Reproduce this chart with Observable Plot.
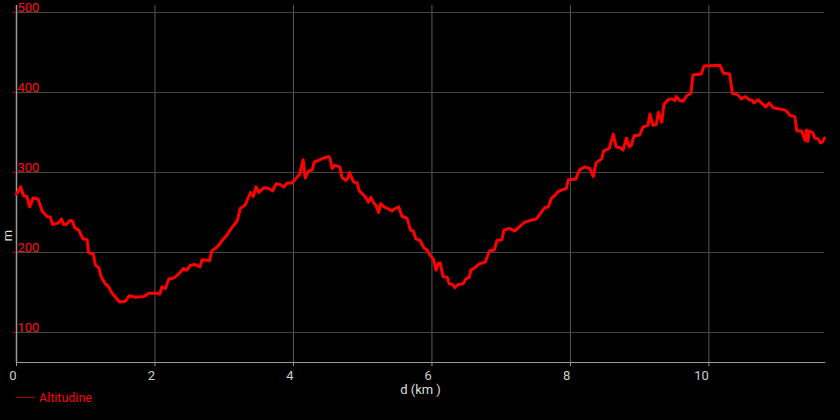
<!DOCTYPE html>
<html>
<head>
<meta charset="utf-8">
<script src="https://cdn.jsdelivr.net/npm/d3@7"></script>
<script src="https://cdn.jsdelivr.net/npm/@observablehq/plot@0.6"></script>
<style>
  html, body { margin: 0; padding: 0; background: #000; }
  body { width: 840px; height: 420px; position: relative; overflow: hidden; font-family: Roboto, "Noto Sans", sans-serif; }
  #chart svg { display: block; }
  #ylabel { position: absolute; left: 2px; top: 228px; color: #ddd; font-size: 13px; transform: rotate(-90deg); transform-origin: center; }
  #legend { position: absolute; left: 16px; top: 388px; height: 18px; display: flex; align-items: center; font-size: 12.5px; color: #f00; }
  #legend .sw { display: inline-block; width: 19px; height: 0; border-top: 1px solid #a00; margin-right: 4px; }
</style>
</head>
<body>
<div id="chart"></div>
<div id="ylabel">m</div>
<div id="legend"><span class="sw"></span><span>Altitudine</span></div>
<script>
// distance (km)
const distance = [
  0.00,0.06,0.10,0.15,0.19,0.24,0.31,0.37,0.44,0.49,0.52,0.61,0.65,0.68,0.72,0.77,0.81,0.84,0.90,0.96,
  1.02,1.04,1.11,1.14,1.19,1.22,1.28,1.33,1.38,1.44,1.49,1.57,1.63,1.72,1.84,1.91,2.03,2.07,2.10,2.15,
  2.20,2.27,2.34,2.41,2.46,2.51,2.58,2.65,2.68,2.79,2.82,2.90,2.97,3.04,3.11,3.19,3.23,3.30,3.33,3.38,
  3.42,3.46,3.50,3.57,3.64,3.70,3.75,3.81,3.86,3.91,3.98,4.03,4.09,4.14,4.17,4.22,4.27,4.30,4.36,4.43,
  4.51,4.53,4.56,4.60,4.67,4.70,4.75,4.78,4.81,4.84,4.87,4.92,4.95,5.00,5.05,5.08,5.12,5.16,5.19,5.23,
  5.26,5.31,5.36,5.42,5.47,5.52,5.57,5.64,5.69,5.73,5.77,5.83,5.88,5.93,5.97,6.02,6.06,6.09,6.12,6.16,
  6.22,6.25,6.30,6.33,6.38,6.45,6.49,6.54,6.56,6.62,6.69,6.77,6.83,6.90,6.94,7.01,7.04,7.12,7.20,7.26,
  7.34,7.42,7.51,7.56,7.63,7.68,7.72,7.78,7.82,7.87,7.94,7.97,8.08,8.13,8.20,8.28,8.33,8.37,8.45,8.48,
  8.56,8.62,8.66,8.72,8.76,8.81,8.85,8.88,8.92,9.00,9.05,9.12,9.15,9.19,9.24,9.27,9.32,9.35,9.41,9.46,
  9.51,9.53,9.58,9.63,9.68,9.74,9.77,9.89,9.93,10.16,10.21,10.30,10.34,10.42,10.47,10.53,10.58,10.63,10.65,10.71,
  10.76,10.82,10.87,10.93,10.99,11.10,11.14,11.18,11.24,11.27,11.34,11.39,11.41,11.43,11.45,11.50,11.53,11.58,11.61,11.64,
  11.67
];
// altitude (m)
const altitude = [
  273,282,271,270,257,268,267,252,245,244,235,237,242,235,235,240,239,231,228,217,
  216,200,198,184,181,170,161,157,149,143,138,139,146,144,145,149,149,148,157,155,
  167,168,173,180,178,184,185,182,191,190,202,207,215,222,231,240,255,259,265,275,
  270,282,275,281,280,277,286,285,282,287,287,292,298,316,293,302,303,313,315,318,
  320,317,305,309,307,294,290,292,300,294,288,287,277,273,268,263,269,262,259,250,
  261,257,255,252,255,257,245,243,228,227,217,215,206,203,197,192,178,186,187,170,
  169,161,160,156,160,161,167,169,178,181,186,188,202,203,215,216,228,230,227,232,
  238,240,242,248,256,257,267,272,276,278,280,291,292,303,307,305,295,312,317,327,
  330,348,332,331,328,343,332,334,346,347,357,359,373,359,360,375,363,385,391,392,
  390,395,390,389,396,399,422,423,433,434,424,423,399,397,392,395,391,390,387,391,
  387,382,387,381,380,378,375,371,370,352,352,340,353,339,352,350,343,342,337,338,
  343
];
const xTicks = [0, 2, 4, 6, 8, 10];
const yTicks = [100, 200, 300, 400, 500];
const xLabel = "d (km )";

const data = distance.map((d, i) => ({d, alt: altitude[i]}));

const chart = Plot.plot({
  width: 840,
  height: 390,
  marginTop: 5,
  marginBottom: 28,
  marginLeft: 16,
  marginRight: 16,
  style: {background: "#000", fontFamily: "Roboto, 'Noto Sans', sans-serif", overflow: "visible"},
  x: {domain: [0, 11.67]},
  y: {domain: [62.5, 508.75]},
  marks: [
    Plot.gridX(xTicks, {stroke: "#5a5a5a", strokeOpacity: 1}),
    Plot.gridY(yTicks, {stroke: "#444", strokeOpacity: 1}),
    Plot.ruleX([0], {stroke: "#999", strokeWidth: 1.5}),
    Plot.frame({anchor: "bottom", stroke: "#999"}),
    Plot.axisX(xTicks, {tickSize: 4, tickPadding: 4, stroke: "#999", fill: "#ccc", fontSize: 13, textAnchor: "end", dx: 0, label: null}),
    Plot.axisY(yTicks, {tickSize: 3, tickFormat: () => "", stroke: "#b00", label: null}),
    Plot.text(yTicks, {x: () => 0, y: d => d, text: d => String(d), textAnchor: "start", lineAnchor: "bottom", dx: 1, dy: -1, fill: "#ff1010", fontSize: 13}),
    Plot.line(data, {x: "d", y: "alt", stroke: "#ff0000", strokeWidth: 3, strokeLinejoin: "round"}),
    Plot.text([xLabel], {frameAnchor: "bottom", dy: 31, fill: "#ddd", fontSize: 13})
  ]
});
document.getElementById("chart").appendChild(chart);
</script>
</body>
</html>
